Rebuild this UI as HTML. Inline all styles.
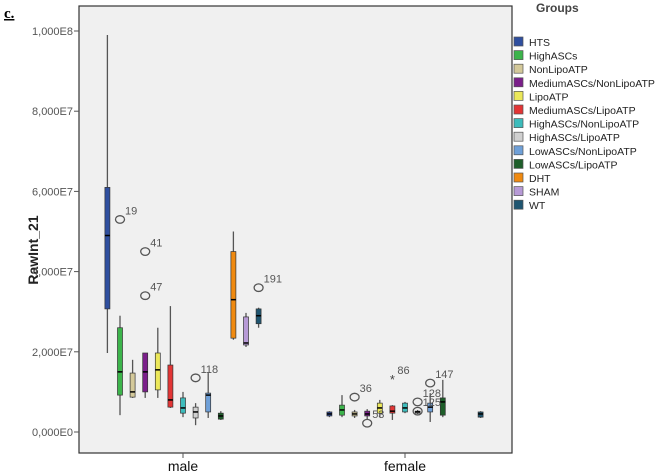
<!DOCTYPE html>
<html><head><meta charset="utf-8">
<style>
body{margin:0;background:#fff;font-family:"Liberation Sans",sans-serif;}
svg{display:block}
</style></head>
<body>
<svg id="chart" width="660" height="474" xmlns="http://www.w3.org/2000/svg">
<text x="4" y="18" font-family="Liberation Serif" font-weight="bold" font-size="15" text-decoration="underline">c.</text>
<rect x="79" y="6" width="433" height="447" fill="#f0f0f0" stroke="#333" stroke-width="1.2"/>
<text transform="translate(38,250) rotate(-90)" text-anchor="middle" font-weight="bold" font-size="14" fill="#222">RawInt_21</text>
<g id="yaxis"></g>
<g id="xaxis"></g>
<g id="boxes"></g>
<g id="outliers"></g>
<g id="legend">
<text x="536" y="12" font-weight="bold" font-size="12" fill="#444">Groups</text>
</g>
</svg>
<script>
const groups=["HTS","HighASCs","NonLipoATP","MediumASCs/NonLipoATP","LipoATP","MediumASCs/LipoATP","HighASCs/NonLipoATP","HighASCs/LipoATP","LowASCs/NonLipoATP","LowASCs/LipoATP","DHT","SHAM","WT"];
const colors=["#2f4f9f","#3cb44b","#d4c99a","#7b1f8a","#ece85a","#e33535","#3dbcbc","#d0d0d0","#6fa0d8","#1e5e2a","#f08a10","#b79ad6","#1f5570"];
const categories=["male","female"];
const yTicks=[0,20,40,60,80,100];
const yTickLabels=["0,000E0","2,000E7","4,000E7","6,000E7","8,000E7","1,000E8"];
// values in millions: [lowWhisker,q1,median,q3,highWhisker]
const maleStats=[[19.7,30.7,49,61,99],[4.2,9.2,15,26,29],[8.5,8.7,10,14.7,18],[8.5,10,15,19.7,19.7],[8.5,10.5,15.5,19.7,26],[6,6.2,8,16.7,31.4],[3.7,4.7,6,8.5,10],[1.7,3.5,5,6.2,7.2],[3.5,5,9.2,9.7,14.7],[3,3.2,4,4.7,5.2],[23,23.4,33,45,50],[21.2,21.7,22.2,28.7,29.7],[26,27,29,30.7,31]];
const femaleStats=[[3.7,4,4.5,5,5.2],[3.7,4.2,5.5,6.7,9.2],[3.5,4,4.5,5,5.5],[3,4,4.5,5.2,5.7],[3.7,4.7,6,7.2,8],[3,4.7,5.2,6.5,6.7],[4.7,5,6,7.2,7.5],[4.5,4.7,5,5.2,5.5],[2.5,5,6.2,7.2,9.7],[3.7,4.2,7.5,8.5,13],null,null,[3.5,3.7,4.5,5,5.2]];
const outlierCat=[0,0,0,0,0,1,1,1,1,1,1];
const outlierGroup=[1,3,3,7,12,2,3,7,5,8,7];
const outlierVal=[53,45,34,13.5,36,8.7,2.2,7.5,13.2,12.2,5.2];
const outlierLabel=["19","41","47","118","191","36","53","128","86","147","125"];
const outlierStar=[0,0,0,0,0,0,0,0,1,0,0];

const NS="http://www.w3.org/2000/svg";
const y=v=>432-v*4.01;
const catX=[183,405];
const gx=(c,i)=>catX[c]+(i-6)*12.6;
function mk(tag,attrs,parent){const e=document.createElementNS(NS,tag);for(const k in attrs)e.setAttribute(k,attrs[k]);parent.appendChild(e);return e;}
const ya=document.getElementById('yaxis');
yTicks.forEach((t,i)=>{
  const l=mk('line',{x1:74,x2:79,y1:y(t),y2:y(t),stroke:'#555'},ya);
  
  
  const tx=mk('text',{x:73,y:y(t)+4,'text-anchor':'end','font-size':11,fill:'#555'},ya);
  tx.textContent=yTickLabels[i];
  
  
});
const xa=document.getElementById('xaxis');
categories.forEach((c,i)=>{
  const l=mk('line',{x1:catX[i],x2:catX[i],y1:453,y2:458,stroke:'#555'},xa);
  
  
  const tx=mk('text',{x:catX[i],y:471,'text-anchor':'middle','font-size':14,fill:'#111'},xa);
  tx.textContent=c;
  
  
});
const bx=document.getElementById('boxes');
[maleStats,femaleStats].forEach((stats,c)=>{
  stats.forEach((s,i)=>{
    if(!s)return;
    const x=gx(c,i);
    const g=mk('g',{},bx);
    
    
    mk('line',{x1:x,x2:x,y1:y(s[0]),y2:y(s[4]),stroke:'#555','stroke-width':1.3},g);
    const h=Math.max(1.5,y(s[1])-y(s[3]));
    mk('rect',{x:x-2.5,y:y(s[3]),width:5,height:h,fill:colors[i],stroke:'#333','stroke-width':0.7},g);
    mk('line',{x1:x-2.5,x2:x+2.5,y1:y(s[2]),y2:y(s[2]),stroke:'#000','stroke-width':1.5},g);
  });
});
const ol=document.getElementById('outliers');
outlierVal.forEach((v,k)=>{
  const x=gx(outlierCat[k],outlierGroup[k]), yy=y(v);
  let m;
  if(outlierStar[k]){m=mk('text',{x:x,y:yy+5,'text-anchor':'middle','font-size':13,fill:'#444'},ol);m.textContent='*';}
  else m=mk('ellipse',{cx:x,cy:yy,rx:4.5,ry:3.8,fill:'none',stroke:'#555','stroke-width':1.3},ol);
  
  
  const t=mk('text',{x:x+5,y:yy-5,'font-size':11,fill:'#555'},ol);
  t.textContent=outlierLabel[k];
  
  
});
const lg=document.getElementById('legend');
groups.forEach((g,i)=>{
  const yy=42+i*13.6;
  const r=mk('rect',{x:514,y:yy-5,width:9,height:9,fill:colors[i],stroke:'#555','stroke-width':0.7},lg);
  
  
  const t=mk('text',{x:529,y:yy+4,'font-size':10.5,fill:'#222'},lg);
  t.textContent=g;
  
  
});
</script>
</body></html>
